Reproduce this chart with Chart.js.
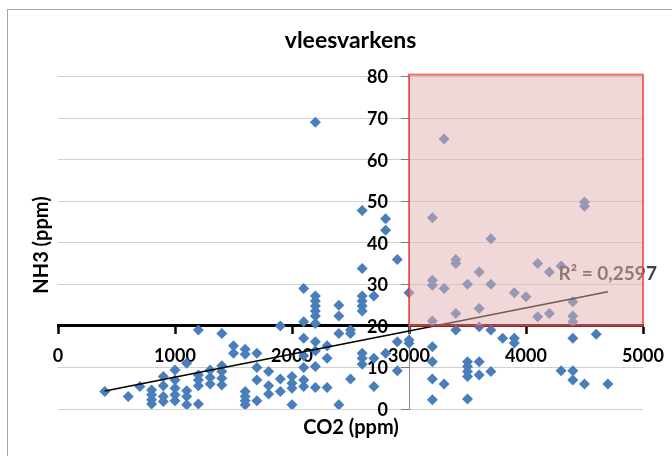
<!DOCTYPE html>
<html>
<head>
<meta charset="utf-8">
<script src="https://cdn.jsdelivr.net/npm/chart.js@4/dist/chart.umd.min.js"></script>
<style>
  html, body { margin: 0; padding: 0; background: #fff; }
  #wrap { width: 672px; height: 456px; }
</style>
</head>
<body>
<div id="wrap"><canvas id="chart" width="672" height="456"></canvas></div>
<script>
// Measurements: CO2 (ppm) and NH3 (ppm), one entry per sample
const co2 = [
  400, 600, 700,
  800, 800, 800, 800,
  900, 900, 900, 900,
  1000, 1000, 1000, 1000, 1000,
  1100, 1100, 1100, 1100,
  1200, 1200, 1200, 1200, 1200,
  1300, 1300, 1300,
  1400, 1400, 1400, 1400, 1400,
  1500, 1500,
  1600, 1600, 1600, 1600, 1600, 1600,
  1700, 1700, 1700, 1700,
  1800, 1800, 1800,
  1900, 1900, 1900,
  2000, 2000, 2000, 2000,
  2100, 2100, 2100, 2100, 2100, 2100, 2100,
  2200, 2200, 2200, 2200, 2200, 2200, 2200, 2200, 2200, 2200, 2200,
  2300, 2300, 2300,
  2400, 2400, 2400, 2400,
  2500, 2500, 2500,
  2600, 2600, 2600, 2600, 2600, 2600, 2600, 2600, 2600,
  2700, 2700, 2700,
  2800, 2800, 2800,
  2900, 2900, 2900,
  3000, 3000, 3000,
  3200, 3200, 3200, 3200, 3200, 3200, 3200, 3200,
  3300, 3300, 3300,
  3400, 3400, 3400, 3400,
  3500, 3500, 3500, 3500, 3500, 3500,
  3600, 3600, 3600, 3600, 3600,
  3700, 3700, 3700, 3700,
  3800,
  3900, 3900, 3900,
  4000,
  4100, 4100,
  4200, 4200,
  4300, 4300,
  4400, 4400, 4400, 4400, 4400, 4400,
  4500, 4500, 4500,
  4600,
  4700
];
const nh3 = [
  4.2, 3.0, 5.4,
  4.6, 3.4, 2.2, 1.2,
  7.8, 5.6, 3.0, 1.8,
  9.4, 7.0, 5.0, 3.4, 2.0,
  11.0, 4.4, 3.0, 1.0,
  19.0, 8.2, 7.0, 5.6, 1.2,
  9.4, 7.6, 6.0,
  18.2, 10.4, 9.0, 7.4, 5.8,
  15.2, 13.4,
  14.4, 13.2, 4.2, 3.0, 2.0, 1.0,
  13.4, 10.0, 7.0, 2.0,
  9.0, 5.6, 3.6,
  20.0, 7.2, 4.2,
  7.8, 6.2, 5.0, 1.0,
  29.0, 21.0, 17.0, 12.8, 10.0, 7.0, 5.4,
  69.0, 27.2, 26.0, 24.8, 23.6, 22.4, 20.6, 16.2, 14.0, 10.2, 5.2,
  15.2, 12.2, 5.2,
  25.0, 22.4, 18.2, 1.0,
  19.0, 18.2, 7.2,
  47.8, 33.8, 27.2, 26.0, 24.8, 23.6, 13.4, 12.2, 10.8,
  27.2, 12.2, 5.4,
  45.8, 43.0, 13.4,
  36.0, 16.2, 9.2,
  28.0, 16.6, 15.8,
  46.0, 31.0, 29.8, 21.2, 15.0, 11.4, 7.2, 2.2,
  65.0, 29.0, 6.0,
  36.0, 35.0, 23.0, 19.0,
  30.0, 11.4, 10.2, 9.0, 7.8, 2.4,
  33.0, 24.2, 19.8, 11.4, 8.2,
  41.0, 30.0, 19.0, 9.0,
  17.0,
  28.0, 17.0, 15.9,
  27.0,
  35.0, 22.2,
  33.0, 23.0,
  34.4, 9.2,
  25.8, 22.4, 21.0, 17.0, 9.2, 7.0,
  49.8, 48.8, 6.0,
  18.0,
  6.0
];

// Tick values of both axes
const xTicks = [0, 1000, 2000, 3000, 4000, 5000];
const yTicks = [0, 10, 20, 30, 40, 50, 60, 70, 80];

// Axes cross at CO2 = 3000 ppm and NH3 = 20 ppm
const crossCo2 = 3000;
const crossNh3 = 20;

// Threshold zone: CO2 above 3000 ppm and NH3 above 20 ppm
const zoneCo2 = [3000, 5000];
const zoneNh3 = [20, 80];

// Coefficient of determination shown next to the trend line
const rSquared = 0.2597;

const points = co2.map((x, i) => ({ x: x, y: nh3[i] }));

// Least-squares linear fit over the measurements
function linearFit(xs, ys) {
  const n = xs.length;
  let sx = 0, sy = 0, sxx = 0, sxy = 0;
  for (let i = 0; i < n; i++) {
    sx += xs[i]; sy += ys[i];
    sxx += xs[i] * xs[i]; sxy += xs[i] * ys[i];
  }
  const slope = (n * sxy - sx * sy) / (n * sxx - sx * sx);
  const intercept = (sy - slope * sx) / n;
  return { slope, intercept };
}
const fit = linearFit(co2, nh3);
const xMin = Math.min(...co2), xMax = Math.max(...co2);
const trend = [
  { x: xMin, y: fit.intercept + fit.slope * xMin },
  { x: xMax, y: fit.intercept + fit.slope * xMax }
];

const FONT = 'Lato, "Liberation Sans", sans-serif';

const framePlugin = {
  id: 'frame',
  beforeDraw(chart) {
    const ctx = chart.ctx;
    ctx.save();
    ctx.fillStyle = '#ffffff';
    ctx.fillRect(0, 0, chart.width, chart.height);
    ctx.strokeStyle = '#a6a6a6';
    ctx.lineWidth = 1;
    ctx.strokeRect(7.5, 9.5, chart.width + 20, chart.height + 20);
    ctx.restore();
  }
};

// Value labels of the NH3 axis, set to the left of the crossing axis line
const yLabelPlugin = {
  id: 'yLabels',
  beforeDatasetsDraw(chart) {
    const { ctx, scales: { x, y } } = chart;
    const ax = x.getPixelForValue(crossCo2);
    ctx.save();
    ctx.font = 'bold 18px ' + FONT;
    ctx.fillStyle = '#000';
    ctx.textAlign = 'right';
    ctx.textBaseline = 'middle';
    y.ticks.forEach(t => {
      ctx.fillText(String(t.value), ax - 21, y.getPixelForValue(t.value) + 1);
    });
    ctx.restore();
  }
};

const zonePlugin = {
  id: 'zone',
  afterDatasetsDraw(chart) {
    const { ctx, scales: { x, y } } = chart;
    ctx.save();
    // trend line label
    const lx = x.getPixelForValue(4700);
    const ly = y.getPixelForValue(fit.intercept + fit.slope * 4700) - 18;
    ctx.font = 'bold 19px ' + FONT;
    ctx.fillStyle = '#404040';
    ctx.textAlign = 'right';
    ctx.textBaseline = 'middle';
    ctx.fillText('R\u00B2 = ' + rSquared.toFixed(4).replace('.', ','), lx + 49, ly);
    // shaded zone
    const x0 = x.getPixelForValue(zoneCo2[0]);
    const x1 = x.getPixelForValue(zoneCo2[1]);
    const y0 = y.getPixelForValue(zoneNh3[1]);
    const y1 = y.getPixelForValue(zoneNh3[0]);
    ctx.fillStyle = 'rgba(228, 178, 177, 0.5)';
    ctx.fillRect(x0, y0 - 2, x1 - x0, y1 - y0 + 2);
    ctx.strokeStyle = 'rgba(240, 50, 50, 0.7)';
    ctx.lineWidth = 2;
    ctx.strokeRect(x0, y0 - 2, x1 - x0, y1 - y0 + 2);
    ctx.restore();
  },
  afterDraw(chart) {
    const { ctx } = chart;
    ctx.save();
    ctx.font = 'bold 20px ' + FONT;
    ctx.fillStyle = '#000';
    ctx.textAlign = 'center';
    ctx.textBaseline = 'middle';
    ctx.fillText('CO2 (ppm)', 351, 428);
    ctx.translate(42, 245);
    ctx.rotate(-Math.PI / 2);
    ctx.fillText('NH3 (ppm)', 0, 0);
    ctx.restore();
  }
};

new Chart(document.getElementById('chart'), {
  type: 'scatter',
  data: {
    datasets: [
      {
        data: trend,
        showLine: true,
        borderColor: '#000000',
        borderWidth: 1.5,
        pointRadius: 0,
        fill: false,
        order: 0
      },
      {
        data: points,
        pointStyle: 'rectRot',
        pointRadius: 5.5,
        backgroundColor: '#4a7ebb',
        borderWidth: 0,
        order: 1
      }
    ]
  },
  options: {
    responsive: false,
    animation: false,
    devicePixelRatio: 1,
    layout: { padding: { left: 58, right: 29, top: 0, bottom: 47 } },
    plugins: {
      legend: { display: false },
      tooltip: { enabled: false },
      title: {
        display: true,
        text: 'vleesvarkens',
        color: '#000',
        font: { family: FONT, size: 23, weight: 'bold' },
        padding: { top: 27, bottom: 22 }
      }
    },
    scales: {
      x: {
        type: 'linear',
        min: xTicks[0],
        max: xTicks[xTicks.length - 1],
        position: { y: crossNh3 },
        afterBuildTicks: (s) => { s.ticks = xTicks.map(v => ({ value: v })); },
        afterFit: (s) => { s.paddingLeft = 0; s.paddingRight = 0; },
        grid: { drawOnChartArea: false, drawTicks: true, tickLength: 7, tickColor: '#000', tickWidth: 2.5 },
        border: { color: '#000', width: 3 },
        ticks: { padding: 12, color: '#000', maxRotation: 0, autoSkip: false,
                 callback: (v) => String(v),
                 font: { family: FONT, size: 18, weight: 'bold' } }
      },
      y: {
        type: 'linear',
        min: yTicks[0],
        max: yTicks[yTicks.length - 1],
        position: { x: crossCo2 },
        afterBuildTicks: (s) => { s.ticks = yTicks.map(v => ({ value: v })); },
        afterFit: (s) => { s.paddingTop = 0; s.paddingBottom = 0; },
        grid: { color: '#d0d0d0', lineWidth: 1, tickLength: 8, tickColor: '#7a7a7a' },
        border: { color: '#8a8a8a', width: 1 },
        ticks: { display: false }
      }
    }
  },
  plugins: [framePlugin, yLabelPlugin, zonePlugin]
});
</script>
</body>
</html>
